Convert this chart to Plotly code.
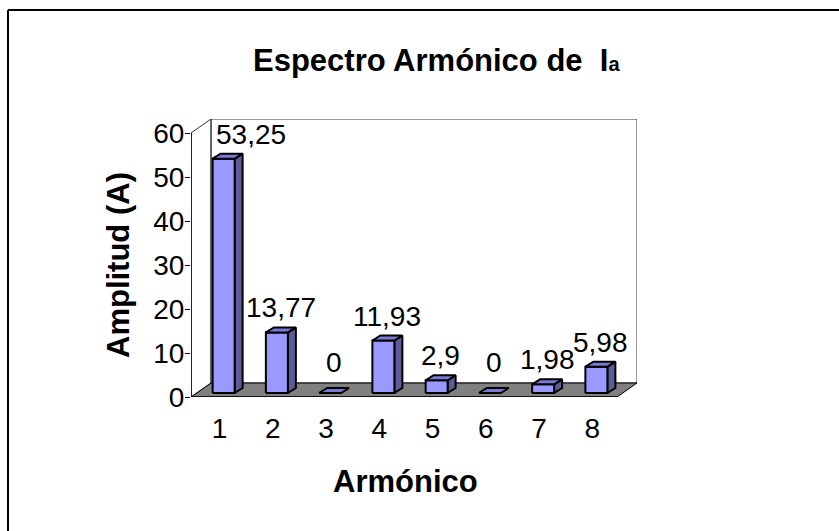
import plotly.graph_objects as go

# Harmonic spectrum of phase current Ia
harmonics = ["1", "2", "3", "4", "5", "6", "7", "8"]
amplitudes = [53.25, 13.77, 0, 11.93, 2.9, 0, 1.98, 5.98]
y_ticks = [0, 10, 20, 30, 40, 50, 60]

FONT = "Arial, Liberation Sans, sans-serif"
W, H = 839, 531
L, R, T, B = 191, 637, 119, 397          # plot area in pixels
Y_MAX = 60
FLOOR_DX, FLOOR_DY = 20, 14              # depth of the 3-D box (px)
n = len(harmonics)
px_per_cat = (R - L - FLOOR_DX) / n
px_per_unit = (B - T - FLOOR_DY) / Y_MAX

x_lo = 0.5
x_hi = n + 0.5 + FLOOR_DX / px_per_cat
y_hi = Y_MAX + FLOOR_DY / px_per_unit


def dx(p):
    return p / px_per_cat


def dy(p):
    return p / px_per_unit


def poly_trace(polys, fill, line_color="black", line_width=1):
    xs, ys = [], []
    for poly in polys:
        for (a, b) in poly + [poly[0]]:
            xs.append(a)
            ys.append(b)
        xs.append(None)
        ys.append(None)
    return go.Scatter(x=xs, y=ys, mode="lines", fill="toself", fillcolor=fill,
                      line=dict(color=line_color, width=line_width),
                      hoverinfo="skip", showlegend=False)


fig = go.Figure()

# walls and floor of the 3-D box
fx0, fx1 = x_lo, n + 0.5
bx, by = dx(FLOOR_DX), dy(FLOOR_DY)
left_wall = [(fx0, 0), (fx0, Y_MAX), (fx0 + bx, Y_MAX + by), (fx0 + bx, by)]
back_wall = [(fx0 + bx, by), (fx0 + bx, Y_MAX + by), (fx1 + bx, Y_MAX + by), (fx1 + bx, by)]
floor = [(fx0, 0), (fx1, 0), (fx1 + bx, by), (fx0 + bx, by)]
fig.add_trace(poly_trace([left_wall, back_wall], "white", "#333333", 1))
fig.add_trace(poly_trace([floor], "#808080", "black", 1))

# 3-D columns
half_w = dx(11)
f_dx, f_dy = dx(6), dy(4)       # front face offset into depth
b_dx, b_dy = dx(14), dy(9)      # back face offset into depth
fronts, tops, sides = [], [], []
for i, v in enumerate(amplitudes):
    c = i + 1
    xl, xr = c - half_w + f_dx, c + half_w + f_dx
    xbl, xbr = c - half_w + b_dx, c + half_w + b_dx
    if v > 0:
        fronts.append([(xl, f_dy), (xr, f_dy), (xr, v + f_dy), (xl, v + f_dy)])
        sides.append([(xr, f_dy), (xbr, b_dy), (xbr, v + b_dy), (xr, v + f_dy)])
    tops.append([(xl, v + f_dy), (xr, v + f_dy), (xbr, v + b_dy), (xbl, v + b_dy)])
fig.add_trace(poly_trace(sides, "#5C5C99", "black", 2))
fig.add_trace(poly_trace(fronts, "#9999FF", "black", 2))
fig.add_trace(poly_trace(tops, "#7A7AD6", "black", 2))

# value axis line and front edge of the floor
fig.add_trace(go.Scatter(x=[fx0, fx0], y=[0, Y_MAX], mode="lines",
                         line=dict(color="black", width=1.5),
                         hoverinfo="skip", showlegend=False))
fig.add_trace(go.Scatter(x=[fx0, fx1], y=[0, 0], mode="lines",
                         line=dict(color="black", width=1.5),
                         hoverinfo="skip", showlegend=False))

# data labels
for i, v in enumerate(amplitudes):
    txt = f"{v:g}".replace(".", ",")
    shift = 23 if i == 0 else 0          # first label nudged clear of the axis
    lift = 8 if v == 0 else 2
    fig.add_annotation(x=i + 1 + dx(10), y=v + b_dy, text=txt, showarrow=False,
                       xanchor="center", yanchor="bottom", xshift=shift, yshift=lift,
                       font=dict(family=FONT, size=28, color="black"))


def paper_x(p):
    return (p - L) / (R - L)


def paper_y(p):
    return (B - p) / (B - T)


# titles
fig.add_annotation(xref="paper", yref="paper", x=paper_x(436), y=paper_y(61),
                   text="Espectro Armónico de  I<span style='font-size:20px'>a</span>",
                   showarrow=False, xanchor="center", yanchor="middle",
                   font=dict(family=FONT, size=31, color="black", weight="bold"))
fig.add_annotation(xref="paper", yref="paper", x=paper_x(405), y=paper_y(481),
                   text="Armónico", showarrow=False, xanchor="center", yanchor="middle",
                   font=dict(family=FONT, size=31, color="black", weight="bold"))
fig.add_annotation(xref="paper", yref="paper", x=paper_x(118), y=paper_y(265),
                   text="Amplitud (A)", showarrow=False, textangle=-90,
                   xanchor="center", yanchor="middle",
                   font=dict(family=FONT, size=31, color="black", weight="bold"))

# chart border (left and top edges)
fig.add_shape(type="line", xref="paper", yref="paper",
              x0=paper_x(8), y0=paper_y(10), x1=paper_x(8), y1=paper_y(540),
              line=dict(color="black", width=2))
fig.add_shape(type="line", xref="paper", yref="paper",
              x0=paper_x(8), y0=paper_y(10), x1=paper_x(845), y1=paper_y(10),
              line=dict(color="black", width=2))

fig.update_layout(
    width=W, height=H,
    margin=dict(l=L, r=W - R, t=T, b=H - B),
    paper_bgcolor="white", plot_bgcolor="white",
    font=dict(family=FONT, size=28, color="black"),
    xaxis=dict(range=[x_lo, x_hi], tickvals=[i + 1 + dx(2) for i in range(n)],
               ticktext=harmonics, showgrid=False, zeroline=False, showline=False,
               ticks="", ticklabelstandoff=12, fixedrange=True),
    yaxis=dict(range=[0, y_hi], tickvals=y_ticks, showgrid=False, zeroline=False,
               showline=False, ticks="outside", ticklen=5, tickcolor="black",
               tickwidth=1, ticklabelstandoff=-5, fixedrange=True),
)

fig.write_html("out.html")
